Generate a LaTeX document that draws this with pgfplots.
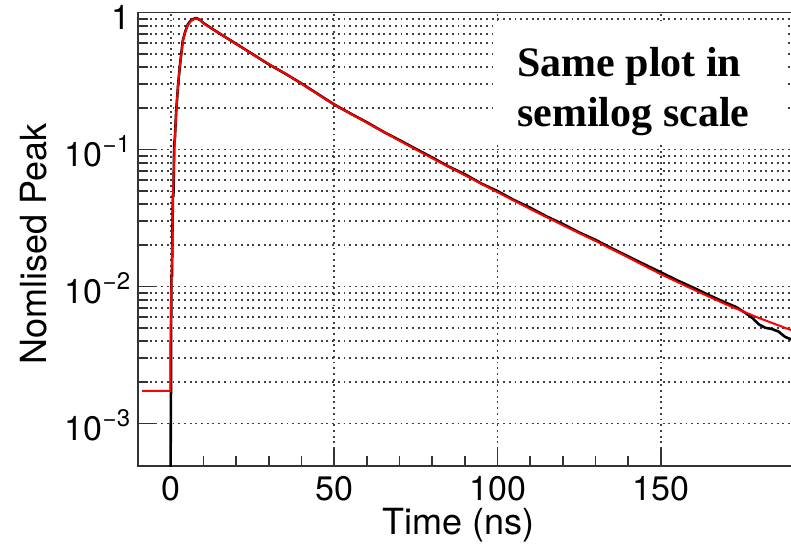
\documentclass[border=0pt]{standalone}
\usepackage{fontspec}
\setmainfont{TeX Gyre Heros}
\newfontfamily\timesfont{Liberation Serif}
\usepackage{pgfplots}
\pgfplotsset{compat=1.18}
\newcommand{\esup}[1]{\raisebox{14pt}{\fontsize{24}{24}\selectfont #1}}
\begin{document}
\begin{tikzpicture}
\useasboundingbox (0pt,0pt) rectangle (791pt,-547pt);
\begin{axis}[
  at={(138.3pt,-466pt)}, anchor=south west,
  scale only axis, width=659.7pt, height=453.5pt,
  xmin=-10, xmax=192, ymode=log, ymin=4.9e-4, ymax=1,
  xtick={0,50,100,150}, minor x tick num=4,
  ytick={0.001,0.01,0.1,1},
  yticklabels={{10\esup{−3}},{10\esup{−2}},{10\esup{−1}},{1}},
  xmajorgrids, ymajorgrids, yminorgrids,
  grid style={black!75, line width=1.7pt, dash pattern=on 1.9pt off 3.8pt},
  major grid style={black!75, line width=1.7pt, dash pattern=on 1.9pt off 3.8pt},
  minor grid style={black!75, line width=1.7pt, dash pattern=on 1.9pt off 3.8pt},
  axis line style={black!80, line width=1.7pt},
  tick style={black!80, line width=1.7pt},
  major tick length=17pt, minor tick length=10pt,
  tick align=inside, tick pos=left,
  /pgf/number format/assume math mode=true,
  tick label style={font=\fontsize{34}{40}\selectfont},
  x tick label style={anchor=base, inner sep=0pt, yshift=-34pt},
  y tick label style={anchor=base east, inner sep=0pt, xshift=-8pt, yshift=-17pt},
  xlabel={Time (ns)},
  x label style={at={(axis description cs:0.486,0)}, anchor=base, yshift=-68.3pt, inner sep=0pt, font=\fontsize{36}{40}\selectfont},
  ylabel={Nomlised Peak},
  y label style={at={(axis description cs:-0.1399,0.49)}, anchor=base, rotate=0, inner sep=0pt, font=\fontsize{36}{40}\selectfont},
  clip=true,
]
% measured data (black)
\addplot[black, line width=2.6pt] coordinates {
(-10,2e-4) (-0.2,2e-4) (0.0,0.0017) (0.0,0.003) (0.15,0.012) (0.35,0.012) (0.4,0.02) (0.6,0.046) (0.75,0.046) (1.0,0.11) (1.2,0.12) (1.6,0.19) (2.2,0.30) (2.8,0.42) (3.6,0.62) (4.4,0.73) (5.2,0.82) (6.0,0.87) (7.0,0.90) (7.8,0.91) (9,0.88)
(10,0.835) (15,0.70) (20,0.59) (25,0.497) (30,0.418) (35,0.358) (40,0.303) (45,0.254) (50,0.213) (55,0.183) (60,0.158) (65,0.135) (70,0.117) (75,0.101) (80,0.0875) (85,0.0752) (90,0.066) (95,0.0565) (100,0.0497) (105,0.0428) (110,0.0376) (115,0.0325) (120,0.0286) (125,0.0248) (130,0.0219) (135,0.0190) (140,0.0166) (145,0.0145) (150,0.0127) (155,0.0111) (160,0.0098) (165,0.0086) (170,0.0076) (173,0.0071) (176,0.0064) (178,0.0059) (180,0.0053) (182,0.0050) (184,0.0049) (186,0.0047) (188,0.0043) (190,0.0041)
};
% fit (red)
\addplot[red, line width=2pt] coordinates {
(-8.8,1.73e-3) (-0.2,1.73e-3) (-0.2,3.2e-3) (0.1,0.01) (0.4,0.02) (0.6,0.045) (1.1,0.105) (1.65,0.194) (2.2,0.30) (2.7,0.40) (3.7,0.63) (4.5,0.74) (5.2,0.81) (6.0,0.86) (6.8,0.89) (7.8,0.905) (8.8,0.89)
(10,0.83) (15,0.70) (20,0.589) (25,0.495) (30,0.42) (35,0.359) (40,0.302) (45,0.253) (50,0.212) (60,0.157) (70,0.116) (80,0.0863) (90,0.0649) (100,0.0488) (110,0.0368) (120,0.028) (130,0.0215) (140,0.0163) (150,0.0123) (160,0.0095) (170,0.0074) (180,0.0059) (190,0.0048)
};
\end{axis}
\fill[white] (493pt,-22pt) rectangle (785pt,-142pt);
\node[anchor=base west, inner sep=0pt, font=\timesfont\bfseries\fontsize{42}{50}\selectfont] at (517pt,-76pt) {Same plot in};
\node[anchor=base west, inner sep=0pt, font=\timesfont\bfseries\fontsize{42}{50}\selectfont] at (517pt,-126.7pt) {semilog scale};
\end{tikzpicture}
\end{document}
